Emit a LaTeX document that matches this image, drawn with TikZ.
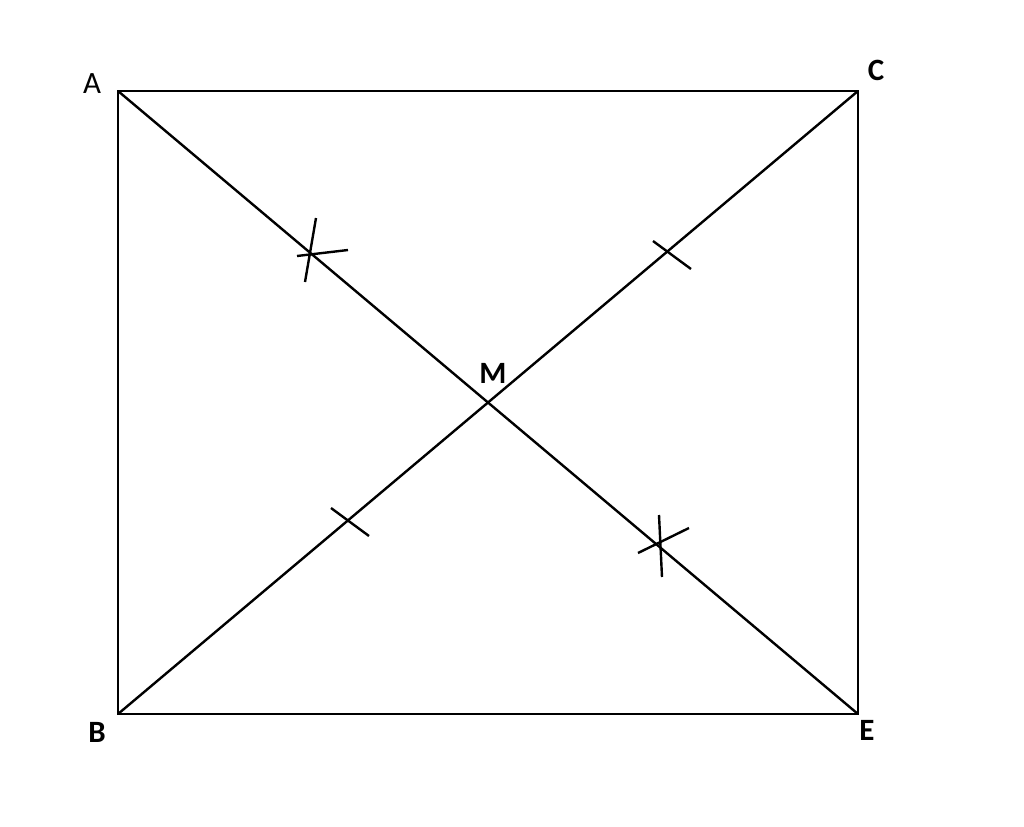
\documentclass[tikz,border=0pt]{standalone}
\usepackage{fontspec}
\setmainfont{Carlito}

\def\linew{1.2pt}
\def\tickmark{%
    \draw [line width=\linew] (-19,-14)--(19,14);
}
\tikzset{
    corner/.style={font=\fontsize{15.5}{18}\selectfont\bfseries, inner sep=0pt},
}

\begin{document}
\begin{tikzpicture}[x=0.5pt,y=-0.5pt]
\useasboundingbox (0,0) rectangle (1024,826);
\coordinate (A) at (118,91);
\coordinate (C) at (858,91);
\coordinate (B) at (118,714);
\coordinate (E) at (858,714);
\coordinate (M) at (488,402);
\draw [line width=\linew] (A) -- (C) -- (E) -- (B) -- cycle;
\draw [line width=\linew] (A) -- (E);
\draw [line width=\linew] (B) -- (C);
% single ticks on BM and MC
\begin{scope}[shift={(350,522)}]
    \tickmark
\end{scope}
\begin{scope}[shift={(672,255)}]
    \tickmark
\end{scope}
% crosses on AM and ME
\begin{scope}[shift={(311,253)}]
    \draw [line width=\linew] (5,-35)--(-6,29);
    \draw [line width=\linew] (-14,3)--(37,-3);
\end{scope}
\begin{scope}[shift={(660,543)}]
    \draw [line width=\linew] (-1,-28)--(2,34);
    \draw [line width=\linew] (-22,10)--(29,-15);
\end{scope}
\node [corner, font=\fontsize{15.5}{18}\selectfont] (labA) at (92,84) {A};
\node [corner] (labC) at (876,70) {C};
\node [corner] (labM) at (493,373) {M};
\node [corner] (labB) at (97,732) {B};
\node [corner] (labE) at (867,730) {E};
\end{tikzpicture}
\end{document}
